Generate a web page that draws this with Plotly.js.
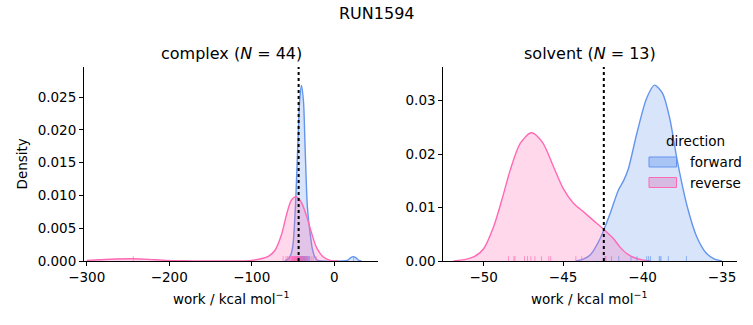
<!DOCTYPE html>
<html>
<head>
<meta charset="utf-8">
<script src="https://cdn.plot.ly/plotly-3.0.1.min.js"></script>
<style>html,body{margin:0;padding:0;background:#fff}#chart{width:753px;height:325px}</style>
</head>
<body>
<div id="chart"></div>
<script>
// ---- KDE curves ----
const complexForwardX = [-60, -55, -52, -50, -48.5, -47, -46, -44, -42, -39.8, -37.3, -35.5, -34.2, -32.7, -30.5, -28.5, -26.5, -23.5, -20, -15, 10, 16, 20, 23, 26, 30, 33];
const complexForwardY = [0, 0.0004, 0.0012, 0.0025, 0.0050, 0.0085, 0.0116, 0.0182, 0.0243, 0.0268, 0.0243, 0.0180, 0.0130, 0.0085, 0.0055, 0.0035, 0.0018, 0.0006, 0.0001, 0, 0, 0.0001, 0.0005, 0.00066, 0.0005, 0.0001, 0];
const complexReverseX = [-300, -285, -265, -244, -225, -205, -185, -160, -120, -100, -90, -80, -72, -64, -58, -52, -46.5, -40, -34, -28, -22, -14, -5, 5];
const complexReverseY = [0.0001, 0.00018, 0.0003, 0.00034, 0.00025, 0.0001, 0.00003, 0, 0, 0.0001, 0.0003, 0.0007, 0.0016, 0.0040, 0.0070, 0.0093, 0.0098, 0.0090, 0.0070, 0.0045, 0.0022, 0.0007, 0.0001, 0];
const solventForwardX = [-44.2, -43.7, -43.3, -42.67, -42.04, -41.52, -41.2, -40.9, -40.36, -39.74, -39.25, -38.75, -38.3, -37.8, -37.2, -36.6, -36.0, -35.5, -35.0];
const solventForwardY = [0, 0.0004, 0.0011, 0.0042, 0.0089, 0.0133, 0.0150, 0.0172, 0.0239, 0.0305, 0.0329, 0.0314, 0.0268, 0.0185, 0.0103, 0.0046, 0.0015, 0.0004, 0];
const solventReverseX = [-51.9, -51.0, -50.6, -50.0, -49.4, -48.86, -48.33, -47.7, -47.0, -46.3, -45.6, -45.0, -44.35, -43.72, -43.1, -42.47, -41.84, -41.42, -41.0, -40.58, -40.0, -39.5];
const solventReverseY = [0, 0.0004, 0.0008, 0.0023, 0.0062, 0.0114, 0.0170, 0.0220, 0.0240, 0.0222, 0.0176, 0.0136, 0.0108, 0.0092, 0.0076, 0.0060, 0.0042, 0.0026, 0.0014, 0.0007, 0.0002, 0];

// ---- individual work values (rug) ----
const complexForwardWork = [-47.8, -46.2, -45.1, -44.6, -44.0, -43.5, -43.1, -42.8, -42.4, -42.0, -41.7, -41.4, -41.1, -40.8, -40.5, -40.2, -39.9, -39.6, -39.3, -39.0, -38.7, -38.4, -38.1, -37.8, -37.4, -37.0, -36.6, -36.2, -35.7, -35.2, -34.6, -34.0, -33.3, -32.5, -31.4, -30.2, -40.0, -39.4, -38.9, -41.9, -42.6, -37.6, -36.4, 23.5];
const complexReverseWork = [-243.6, -62.0, -58.5, -56.6, -55.0, -53.8, -52.7, -51.8, -51.0, -50.2, -49.5, -48.9, -48.3, -47.7, -47.2, -46.7, -46.2, -45.7, -45.2, -44.7, -44.2, -43.7, -43.2, -42.7, -42.2, -41.6, -41.0, -40.4, -39.7, -39.0, -38.2, -37.3, -36.3, -35.1, -33.7, -32.1, -30.2, -28.1, -25.6, -47.9, -45.4, -41.9, -50.5, -22.0];
const solventForwardWork = [-42.35, -41.96, -41.5, -40.73, -40.35, -39.74, -39.62, -39.5, -38.95, -38.9, -38.84, -38.38, -37.24];
const solventReverseWork = [-48.44, -48.1, -48.03, -47.43, -47.24, -47.03, -46.78, -46.36, -45.9, -45.78, -44.2, -43.83, -42.3];

// ---- free energy estimates (dotted lines) ----
const complexEstimate = -43.2;
const solventEstimate = -42.44;

const directions = ['forward', 'reverse'];
const lineColors = {forward: '#6495ED', reverse: '#FF69B4'};
const fillColors = {forward: 'rgba(100,149,237,0.26)', reverse: 'rgba(255,105,180,0.26)'};
const rugColors = {forward: 'rgba(100,149,237,0.65)', reverse: 'rgba(255,105,180,0.65)'};

function kdeTrace(x, y, dir, xa, ya) {
  return {x: x, y: y, xaxis: xa, yaxis: ya, type: 'scatter', mode: 'lines',
    line: {color: lineColors[dir], width: 1.4, shape: 'spline', smoothing: 0.8},
    fill: 'tozeroy', fillcolor: fillColors[dir], hoverinfo: 'skip', showlegend: false};
}

const data = [
  kdeTrace(complexForwardX, complexForwardY, 'forward', 'x', 'y'),
  kdeTrace(complexReverseX, complexReverseY, 'reverse', 'x', 'y'),
  kdeTrace(solventForwardX, solventForwardY, 'forward', 'x2', 'y2'),
  kdeTrace(solventReverseX, solventReverseY, 'reverse', 'x2', 'y2'),
];

const shapes = [];
function rug(values, dir, xref, yref) {
  values.forEach(v => shapes.push({type: 'line', xref: xref, yref: yref + ' domain',
    x0: v, x1: v, y0: 0, y1: 0.025, line: {color: rugColors[dir], width: 1}}));
}
rug(complexForwardWork, 'forward', 'x', 'y');
rug(complexReverseWork, 'reverse', 'x', 'y');
rug(solventForwardWork, 'forward', 'x2', 'y2');
rug(solventReverseWork, 'reverse', 'x2', 'y2');
shapes.push({type: 'line', xref: 'x', yref: 'y domain', x0: complexEstimate, x1: complexEstimate, y0: 0, y1: 1, line: {color: 'black', width: 2, dash: 'dot'}});
shapes.push({type: 'line', xref: 'x2', yref: 'y2 domain', x0: solventEstimate, x1: solventEstimate, y0: 0, y1: 1, line: {color: 'black', width: 2, dash: 'dot'}});

// legend patches (paper coords)
const W = 753, H = 325;
const px = v => v / W, py = v => 1 - v / H;
const legendPatch = {forward: 'rgba(100,149,237,0.4)', reverse: 'rgba(214,172,218,0.75)'};
directions.forEach((d, i) => {
  const top = 157 + i * 20.5;
  shapes.push({type: 'rect', xref: 'paper', yref: 'paper', x0: px(649), x1: px(676.5), y0: py(top + 10), y1: py(top),
    fillcolor: legendPatch[d], line: {color: lineColors[d], width: 1}});
});

const font = {family: 'DejaVu Sans', color: '#000'};
const ann = (text, x, y, size, extra) => Object.assign({text: text, xref: 'paper', yref: 'paper', x: px(x), y: py(y),
  showarrow: false, font: Object.assign({}, font, {size: size}), xanchor: 'center', yanchor: 'middle'}, extra || {});

const annotations = [
  ann('RUN1594', 376.5, 13, 16),
  ann('complex (<i>N</i> = 44)', 231.3, 54, 16),
  ann('solvent (<i>N</i> = 13)', 590.2, 54, 16),
  ann('Density', 21.5, 164, 13.5, {textangle: -90}),
  ann('work / kcal mol<sup>−1</sup>', 231.3, 298, 13.5),
  ann('work / kcal mol<sup>−1</sup>', 589, 298, 13.5),
  ann('direction', 695, 141, 13.5),
  ann('forward', 688, 162, 13.5, {xanchor: 'left'}),
  ann('reverse', 688, 182.5, 13.5, {xanchor: 'left'}),
];

const axisBase = {showline: true, linecolor: '#000', linewidth: 1, ticks: 'outside', ticklen: 4, tickwidth: 1,
  tickcolor: '#000', showgrid: false, zeroline: false, tickfont: Object.assign({}, font, {size: 13.5}), fixedrange: true};

const layout = {
  width: W, height: H, margin: {l: 0, r: 0, t: 0, b: 0}, paper_bgcolor: '#fff', plot_bgcolor: '#fff',
  font: font, showlegend: false,
  xaxis: Object.assign({}, axisBase, {domain: [84 / W, 378 / W], range: [-303.3, 53], anchor: 'y', tickvals: [-300, -200, -100, 0]}),
  yaxis: Object.assign({}, axisBase, {domain: [py(261), py(67)], range: [0, 0.0296], anchor: 'x', tickvals: [0, 0.005, 0.01, 0.015, 0.02, 0.025], tickformat: '.3f'}),
  xaxis2: Object.assign({}, axisBase, {domain: [443.3 / W, 737.3 / W], range: [-52.54, -34.04], anchor: 'y2', tickvals: [-50, -45, -40, -35]}),
  yaxis2: Object.assign({}, axisBase, {domain: [py(261), py(67)], range: [0, 0.0363], anchor: 'x2', tickvals: [0, 0.01, 0.02, 0.03], tickformat: '.2f'}),
  shapes: shapes, annotations: annotations,
};

Plotly.newPlot('chart', data, layout, {displayModeBar: false, staticPlot: true});
</script>
</body>
</html>
